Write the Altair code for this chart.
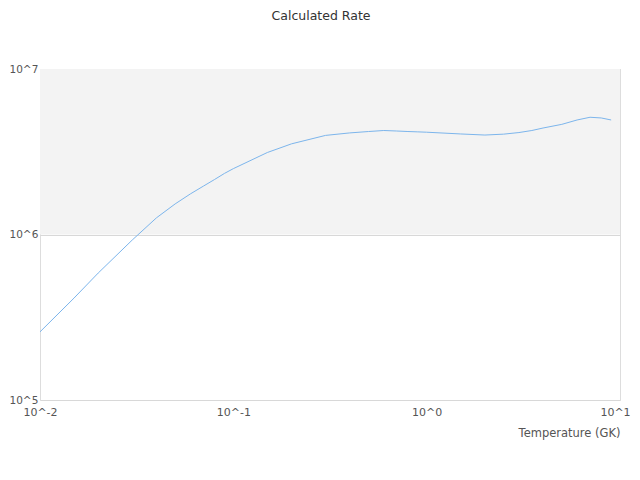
import altair as alt
import pandas as pd

# Temperature grid (GK) and calculated rate values
temperature = [0.01, 0.015, 0.02, 0.03, 0.04, 0.05, 0.06, 0.07, 0.08, 0.09,
               0.1, 0.15, 0.2, 0.3, 0.4, 0.5, 0.6, 0.7, 0.8, 0.9,
               1.0, 1.5, 2.0, 2.5, 3.0, 3.5, 4.0, 5.0, 6.0, 7.0, 8.0, 9.0]
rate = [2.58e5, 4.13e5, 5.85e5, 9.26e5, 1.26e6, 1.53e6, 1.76e6, 1.96e6, 2.15e6, 2.34e6,
        2.50e6, 3.13e6, 3.53e6, 3.97e6, 4.11e6, 4.19e6, 4.25e6, 4.22e6, 4.19e6, 4.17e6,
        4.15e6, 4.05e6, 3.99e6, 4.04e6, 4.13e6, 4.25e6, 4.40e6, 4.63e6, 4.92e6, 5.11e6, 5.06e6, 4.92e6]

x_ticks = [0.01, 0.1, 1, 10]
y_ticks = [1e5, 1e6, 1e7]
band_low = [1e6]
band_high = [1e7]

df = pd.DataFrame({"T": temperature, "rate": rate})
band_df = pd.DataFrame({"lo": band_low, "hi": band_high})

W, H = 580, 331
FONT = "DejaVu Sans"
LABEL = "'10^' + round(log(datum.value)/LN10)"

xscale = alt.Scale(type="log", domain=[0.01, 10], nice=False)
yscale = alt.Scale(type="log", domain=[1e5, 1e7], nice=False)

yaxis = alt.Axis(values=y_ticks, title=None, labelExpr=LABEL,
                 grid=True, gridColor="#d8d8d8", gridWidth=1,
                 ticks=False, domain=False, labelPadding=31, labelAlign="left",
                 labelFont=FONT, labelFontSize=10.5, labelColor="#555555")

band = alt.Chart(band_df).mark_rect(color="#f3f3f3").encode(
    x=alt.value(0), x2=alt.value(W),
    y=alt.Y("lo:Q", scale=yscale, axis=yaxis),
    y2="hi:Q",
)

line = alt.Chart(df).mark_line(color="#7cb5ec", strokeWidth=1).encode(
    x=alt.X("T:Q", scale=xscale,
            axis=alt.Axis(values=x_ticks, title="Temperature (GK)",
                          labelExpr=LABEL,
                          labelOffset=alt.ExprRef("datum.value >= 10 ? -5 : 0"),
                          grid=False, ticks=False, domain=False,
                          labelFlush=False, labelPadding=6,
                          labelFont=FONT, labelFontSize=11, labelColor="#555555",
                          titleFont=FONT, titleFontSize=11.5, titleFontWeight="normal",
                          titleColor="#555555", titleAnchor="end", titlePadding=10)),
    y=alt.Y("rate:Q", scale=yscale, axis=yaxis),
)

chart = alt.layer(band, line).properties(
    width=W, height=H,
    title=alt.TitleParams("Calculated Rate", font=FONT, fontSize=12.5, fontWeight="normal",
                          color="#333333", anchor="middle", offset=42, dx=-9),
    padding={"left": 32, "top": 61, "right": 12, "bottom": 60},
    autosize=alt.AutoSizeParams(type="none"),
).configure_view(stroke="#d8d8d8").configure(background="white")

chart.save("out.html", embed_options={"renderer": "svg", "actions": False})
